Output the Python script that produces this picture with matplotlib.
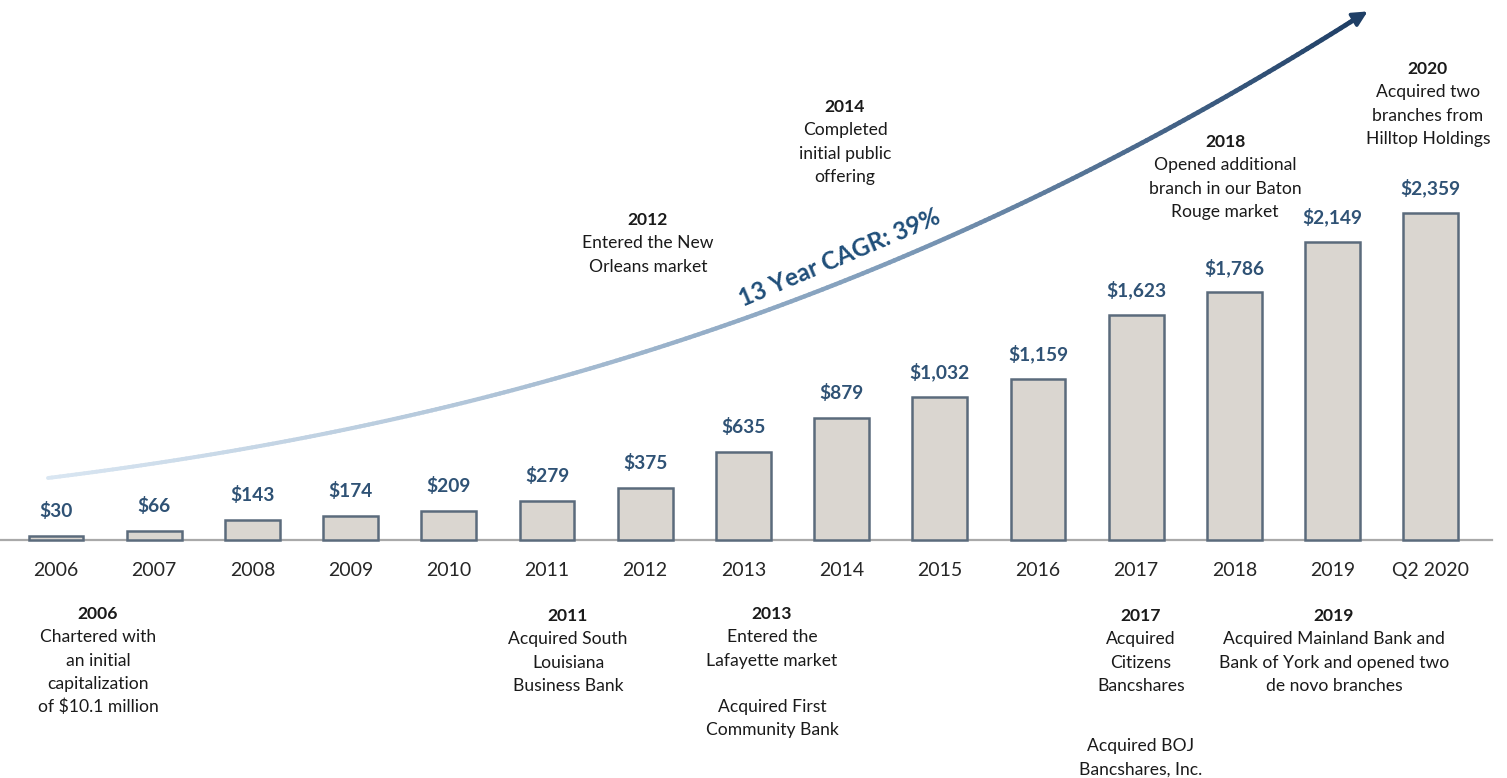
import numpy as np
import matplotlib
matplotlib.use('Agg')
import matplotlib.pyplot as plt
from matplotlib.collections import LineCollection
from matplotlib.colors import LinearSegmentedColormap

plt.rcParams['font.family'] = ['Lato', 'DejaVu Sans']

# total assets ($ millions)
years = ['2006', '2007', '2008', '2009', '2010', '2011', '2012', '2013',
         '2014', '2015', '2016', '2017', '2018', '2019', 'Q2 2020']
assets = [30, 66, 143, 174, 209, 279, 375, 635, 879, 1032, 1159, 1623,
          1786, 2149, 2359]
value_labels = ['$30', '$66', '$143', '$174', '$209', '$279', '$375', '$635',
                '$879', '$1,032', '$1,159', '$1,623', '$1,786', '$2,149',
                '$2,359']

# milestone notes (title, body lines)
notes_below = {
    0: ['2006', 'Chartered with', 'an initial', 'capitalization', 'of $10.1 million'],
    5: ['2011', 'Acquired South', 'Louisiana', 'Business Bank'],
    7: ['2013', 'Entered the', 'Lafayette market', '', 'Acquired First', 'Community Bank'],
    11: ['2017', 'Acquired', 'Citizens', 'Bancshares'],
    13: ['2019', 'Acquired Mainland Bank and', 'Bank of York and opened two', 'de novo branches'],
}
note_2017_extra = ['Acquired BOJ', 'Bancshares, Inc.']
notes_above = {
    6: ['2012', 'Entered the New', 'Orleans market'],
    8: ['2014', 'Completed', 'initial public', 'offering'],
    12: ['2018', 'Opened additional', 'branch in our Baton', 'Rouge market'],
    14: ['2020', 'Acquired two', 'branches from', 'Hilltop Holdings'],
}
cagr_text = '13 Year CAGR: 39%'

W, H = 1507, 778
fig = plt.figure(figsize=(W / 100, H / 100), dpi=100)

# bars axes: full figure, scaled so baseline sits at y=540px
ax = fig.add_axes([0, 0, 1, 1])
px_per_unit = 327 / 2359
base_px = H - 540
ax.set_xlim(-56 / 98.2, (W - 56) / 98.2)
ax.set_ylim(-base_px / px_per_unit, (H - base_px) / px_per_unit)
ax.axis('off')

x = np.arange(len(years))
ax.bar(x, assets, width=0.56, color='#dad6d0', edgecolor='#5b6b7c',
       linewidth=1.8, zorder=3)
ax.axhline(0, xmin=0, xmax=0.99, color='#a9a9a9', lw=1.6, zorder=2)

for i, v in enumerate(assets):
    ax.annotate(value_labels[i], (i, v), xytext=(0, 18), textcoords='offset points',
                ha='center', va='center', fontsize=13.8, fontweight='bold',
                color='#2f5275')
    ax.annotate(years[i], (i, 0), xytext=(0, -22), textcoords='offset points',
                ha='center', va='center', fontsize=14, color='#262626')

# overlay axes in pixel coords for notes and arrow
ov = fig.add_axes([0, 0, 1, 1])
ov.set_xlim(0, W)
ov.set_ylim(H, 0)
ov.axis('off')
ov.patch.set_alpha(0)

line_h = 23.3
below_pos = {0: (98, 614), 5: (568, 616), 7: (772, 614), 11: (1141, 616), 13: (1334, 616)}
above_pos = {6: (648, 220), 8: (845, 107), 12: (1225, 142), 14: (1428, 69)}

def draw_note(cx, y0, lines, bold_first=True):
    for k, s in enumerate(lines):
        ov.text(cx, y0 + k * line_h, s, ha='center', va='center', fontsize=12.6,
                fontweight='bold' if (k == 0 and bold_first) else 'normal',
                color='#1a1a1a')

for idx, lines in notes_below.items():
    draw_note(*below_pos[idx], lines)
draw_note(1141, 746, note_2017_extra, bold_first=False)
for idx, lines in notes_above.items():
    draw_note(*above_pos[idx], lines)

# growth arrow: cubic bezier with light-to-dark gradient
P = np.array([[48, 478], [450, 428], [880, 320], [1360, 16]])
t = np.linspace(0, 1, 300)[:, None]
curve = ((1 - t) ** 3 * P[0] + 3 * (1 - t) ** 2 * t * P[1]
         + 3 * (1 - t) * t ** 2 * P[2] + t ** 3 * P[3])
segs = np.stack([curve[:-1], curve[1:]], axis=1)
cmap = LinearSegmentedColormap.from_list('arr', ['#d9e6f2', '#b3c7da', '#7f9cba', '#1f3f66'])
lc = LineCollection(segs, colors=cmap(np.linspace(0, 1, len(segs))),
                    linewidths=np.linspace(2.8, 3.4, len(segs)), capstyle='round')
ov.add_collection(lc)
ov.annotate('', xy=(1370, 10), xytext=(1345, 25),
            arrowprops=dict(arrowstyle='-|>,head_length=0.9,head_width=0.45',
                            color='#1f3f66', lw=2.5))

ov.text(840, 258, cagr_text, rotation=23, ha='center', va='center',
        fontsize=17.5, fontweight='bold', color='#1f4e79', rotation_mode='anchor')

fig.savefig('out.png', dpi=100)
